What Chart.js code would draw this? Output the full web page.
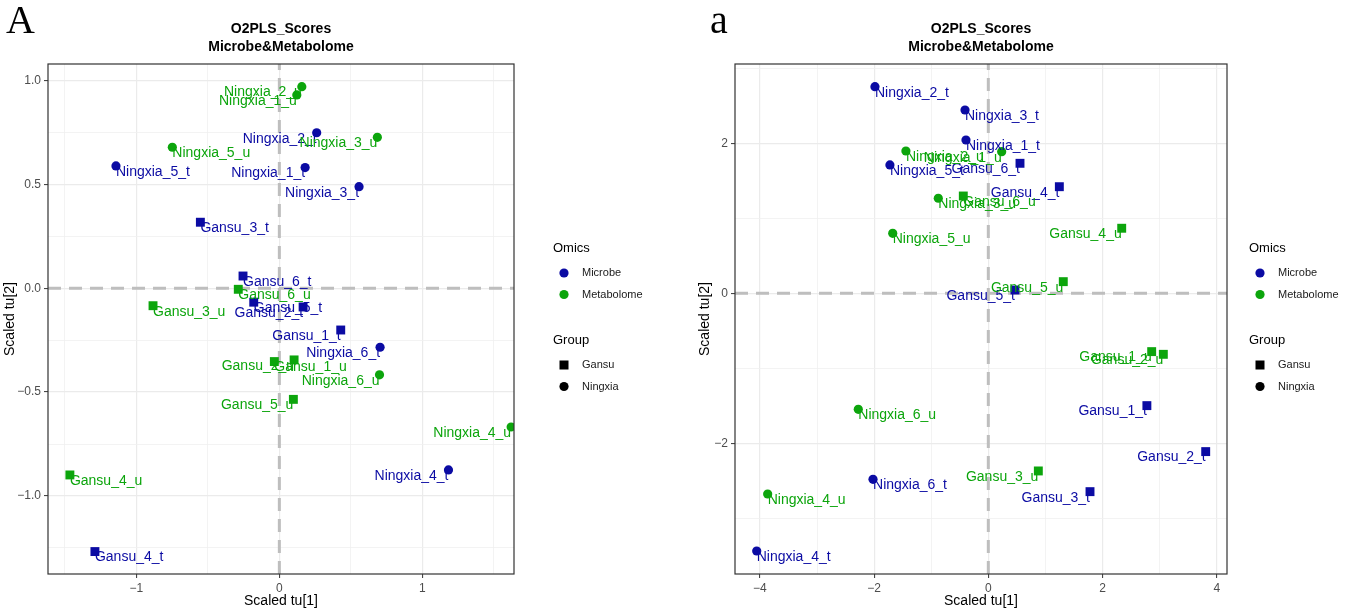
<!DOCTYPE html>
<html>
<head>
<meta charset="utf-8">
<title>O2PLS Scores</title>
<script src="https://cdn.jsdelivr.net/npm/chart.js@4.4.1/dist/chart.umd.min.js"></script>
<style>
    html, body { margin: 0; padding: 0; background: #ffffff; }
    #wrap { position: relative; width: 1354px; height: 614px; }
    .panel { position: absolute; top: 0; width: 677px; height: 614px; }
    #panelA { left: 0; }
    #panelB { left: 677px; }
</style>
</head>
<body>
<div id="wrap">
    <div class="panel" id="panelA"><canvas id="chartA" width="677" height="614"></canvas></div>
    <div class="panel" id="panelB"><canvas id="chartB" width="677" height="614"></canvas></div>
</div>
<script>
// Panel A scores
const sampleNamesA = [
    'Ningxia_2_u', 'Ningxia_1_u', 'Ningxia_2_t', 'Ningxia_3_u', 'Ningxia_5_u', 'Ningxia_5_t',
    'Ningxia_1_t', 'Ningxia_3_t', 'Gansu_3_t', 'Gansu_6_t', 'Gansu_6_u', 'Gansu_5_t',
    'Gansu_2_t', 'Gansu_3_u', 'Gansu_1_t', 'Ningxia_6_t', 'Gansu_1_u', 'Gansu_2_u',
    'Ningxia_6_u', 'Gansu_5_u', 'Ningxia_4_u', 'Gansu_4_u', 'Gansu_4_t', 'Ningxia_4_t'
];
const tu1A = [
    0.157, 0.122, 0.261, 0.685, -0.748, -1.142,
    0.180, 0.557, -0.552, -0.254, -0.287, -0.179,
    0.166, -0.883, 0.429, 0.704, -0.035, 0.103,
    0.700, 0.098, 1.620, -1.464, -1.289, 1.182
];
const tu2A = [
    0.971, 0.931, 0.749, 0.727, 0.679, 0.589,
    0.581, 0.489, 0.318, 0.059, -0.005, -0.067,
    -0.090, -0.084, -0.201, -0.284, -0.353, -0.345,
    -0.417, -0.535, -0.668, -0.899, -1.268, -0.875
];

// Panel a scores
const sampleNamesB = [
    'Ningxia_2_t', 'Ningxia_3_t', 'Ningxia_1_t', 'Ningxia_2_u', 'Ningxia_1_u', 'Ningxia_5_t',
    'Gansu_6_t', 'Gansu_4_t', 'Ningxia_3_u', 'Gansu_6_u', 'Ningxia_5_u', 'Gansu_4_u',
    'Gansu_5_u', 'Gansu_5_t', 'Gansu_1_u', 'Gansu_2_u', 'Gansu_1_t', 'Ningxia_6_u',
    'Gansu_2_t', 'Gansu_3_u', 'Ningxia_6_t', 'Ningxia_4_u', 'Gansu_3_t', 'Ningxia_4_t'
];
const tu1B = [
    -1.985, -0.408, -0.391, -1.443, 0.234, -1.723,
    0.555, 1.244, -0.876, -0.438, -1.674, 2.336,
    1.313, 0.467, 2.861, 3.065, 2.777, -2.277,
    3.807, 0.876, -2.019, -3.864, 1.781, -4.056
];
const tu2B = [
    2.755, 2.444, 2.044, 1.897, 1.888, 1.711,
    1.733, 1.421, 1.267, 1.297, 0.800, 0.867,
    0.155, 0.044, -0.778, -0.814, -1.498, -1.547,
    -2.111, -2.369, -2.480, -2.676, -2.645, -3.436
];

// Axis ticks
const xLabelTicksA = [-1, 0, 1];
const yLabelTicksA = [-1.0, -0.5, 0.0, 0.5, 1.0];
const xLabelTicksB = [-4, -2, 0, 2, 4];
const yLabelTicksB = [-2, 0, 2];

const omicsNames = ['Microbe', 'Metabolome'];
const groupNames = ['Gansu', 'Ningxia'];
const omicsColors = ['#0b0ba3', '#0ca50c'];

const FONT = "'Liberation Sans', Arial, sans-serif";

function omicsOf(name) {
    return name.endsWith('_t') ? 0 : 1;
}

function buildDatasets(names, xs, ys) {
    return omicsNames.map((omics, k) => ({
        label: omics,
        data: names
            .map((name, i) => ({ x: xs[i], y: ys[i], name: name }))
            .filter((p) => omicsOf(p.name) === k),
        backgroundColor: omicsColors[k],
        borderColor: omicsColors[k],
        borderWidth: 0,
        pointStyle: (ctx) => (ctx.raw && ctx.raw.name.startsWith('Gansu') ? 'rect' : 'circle'),
        pointRadius: (ctx) => (ctx.raw && ctx.raw.name.startsWith('Gansu') ? 6.3 : 4.6),
    }));
}

function gridValues(min, max, step) {
    const out = [];
    for (let v = Math.ceil(min / step) * step; v <= max + 1e-9; v += step) {
        out.push(Math.round(v * 1000) / 1000);
    }
    return out;
}

function isMajor(value, majors) {
    return majors.some((m) => Math.abs(m - value) < 1e-6);
}

function fmtTick(value, digits) {
    return value.toFixed(digits).replace('-', '\u2212');
}

function axisOptions(min, max, step, majors, digits, title, fitSize, horizontal, titlePad) {
    return {
        type: 'linear',
        min: min,
        max: max,
        afterBuildTicks: (scale) => {
            scale.ticks = gridValues(min, max, step).map((v) => ({ value: v }));
        },
        afterFit: (scale) => {
            if (horizontal) {
                scale.height = fitSize;
            } else {
                scale.width = fitSize;
            }
        },
        grid: {
            color: (ctx) => (ctx.tick && isMajor(ctx.tick.value, majors) ? '#ebebeb' : '#f0f0f0'),
            lineWidth: (ctx) => (ctx.tick && isMajor(ctx.tick.value, majors) ? 1.2 : 0.8),
            drawTicks: true,
            tickLength: 4,
            tickColor: (ctx) => (ctx.tick && isMajor(ctx.tick.value, majors) ? '#333333' : 'rgba(0,0,0,0)'),
            tickWidth: 1,
        },
        border: { display: false },
        ticks: {
            autoSkip: false,
            maxRotation: 0,
            padding: 3,
            color: '#4d4d4d',
            font: { family: FONT, size: 12 },
            callback: (value) => (isMajor(value, majors) ? fmtTick(value, digits) : ''),
        },
        title: {
            display: true,
            text: title,
            color: '#000000',
            font: { family: FONT, size: 14 },
            padding: titlePad,
        },
    };
}

// Zero lines, point labels, frame, title, legend and panel letter
const o2plsDecor = {
    id: 'o2plsDecor',
    beforeDatasetsDraw(chart) {
        const { ctx, chartArea, scales } = chart;
        const x0 = scales.x.getPixelForValue(0);
        const y0 = scales.y.getPixelForValue(0);
        ctx.save();
        ctx.beginPath();
        ctx.rect(chartArea.left, chartArea.top, chartArea.right - chartArea.left, chartArea.bottom - chartArea.top);
        ctx.clip();
        ctx.strokeStyle = '#bebebe';
        ctx.lineWidth = 3;
        ctx.setLineDash([13, 8]);
        ctx.beginPath();
        ctx.moveTo(x0, chartArea.bottom);
        ctx.lineTo(x0, chartArea.top);
        ctx.moveTo(chartArea.left, y0);
        ctx.lineTo(chartArea.right, y0);
        ctx.stroke();
        ctx.restore();
    },
    afterDatasetsDraw(chart) {
        const { ctx } = chart;
        ctx.save();
        ctx.font = `14px ${FONT}`;
        ctx.textBaseline = 'middle';
        chart.data.datasets.forEach((ds, di) => {
            const meta = chart.getDatasetMeta(di);
            ctx.fillStyle = omicsColors[di];
            ds.data.forEach((p, i) => {
                const el = meta.data[i];
                ctx.textAlign = p.x < 0 ? 'left' : 'right';
                ctx.fillText(p.name, el.x, el.y + 6);
            });
        });
        ctx.restore();
    },
    afterDraw(chart, args, opts) {
        const { ctx, chartArea } = chart;
        ctx.save();
        // panel frame
        ctx.strokeStyle = '#333333';
        ctx.lineWidth = 1.2;
        ctx.strokeRect(chartArea.left, chartArea.top, chartArea.right - chartArea.left, chartArea.bottom - chartArea.top);

        // title
        const cx = (chartArea.left + chartArea.right) / 2;
        ctx.fillStyle = '#000000';
        ctx.textAlign = 'center';
        ctx.textBaseline = 'middle';
        ctx.font = `bold 14px ${FONT}`;
        ctx.fillText('O2PLS_Scores', cx, 29);
        ctx.fillText('Microbe&Metabolome', cx, 47);

        // panel letter
        ctx.textAlign = 'left';
        ctx.textBaseline = 'alphabetic';
        ctx.font = "40px 'Liberation Serif', 'Times New Roman', serif";
        ctx.fillText(opts.letter, opts.letterX, 33);

        // legend
        const lx = opts.legendX;
        ctx.textBaseline = 'middle';
        ctx.font = `13px ${FONT}`;
        ctx.fillStyle = '#000000';
        ctx.fillText('Omics', lx, 248);
        ctx.fillText('Group', lx, 340);
        ctx.font = `11px ${FONT}`;
        omicsNames.forEach((name, k) => {
            const y = 273 + k * 21.5;
            ctx.fillStyle = omicsColors[k];
            ctx.beginPath();
            ctx.arc(lx + 11, y, 4.6, 0, Math.PI * 2);
            ctx.fill();
            ctx.fillStyle = '#1a1a1a';
            ctx.fillText(name, lx + 29, y);
        });
        groupNames.forEach((name, k) => {
            const y = 365 + k * 21.5;
            ctx.fillStyle = '#000000';
            if (k === 0) {
                ctx.fillRect(lx + 11 - 4.5, y - 4.5, 9, 9);
            } else {
                ctx.beginPath();
                ctx.arc(lx + 11, y, 4.6, 0, Math.PI * 2);
                ctx.fill();
            }
            ctx.fillStyle = '#1a1a1a';
            ctx.fillText(name, lx + 29, y);
        });
        ctx.restore();
    },
};

function makeChart(canvasId, names, xs, ys, cfg) {
    const ctx = document.getElementById(canvasId).getContext('2d');
    return new Chart(ctx, {
        type: 'scatter',
        data: { datasets: buildDatasets(names, xs, ys) },
        options: {
            responsive: false,
            animation: false,
            events: [],
            layout: { padding: cfg.padding },
            plugins: {
                legend: { display: false },
                tooltip: { enabled: false },
                title: { display: false },
                o2plsDecor: { letter: cfg.letter, letterX: cfg.letterX, legendX: cfg.legendX },
            },
            scales: {
                x: axisOptions(cfg.xRange[0], cfg.xRange[1], cfg.xStep, cfg.xTicks, cfg.xDigits,
                    'Scaled tu[1]', 40, true, { top: 0, bottom: 4 }),
                y: axisOptions(cfg.yRange[0], cfg.yRange[1], cfg.yStep, cfg.yTicks, cfg.yDigits,
                    'Scaled tu[2]', cfg.yWidth, false, { top: 2, bottom: 0 }),
            },
        },
        plugins: [o2plsDecor],
    });
}

document.addEventListener('DOMContentLoaded', () => {
    makeChart('chartA', sampleNamesA, tu1A, tu2A, {
        padding: { left: 0, right: 163, top: 64, bottom: 0 },
        yWidth: 48,
        xRange: [-1.617, 1.64], xStep: 0.5, xTicks: xLabelTicksA, xDigits: 0,
        yRange: [-1.376, 1.08], yStep: 0.25, yTicks: yLabelTicksA, yDigits: 1,
        letter: 'A', letterX: 6, legendX: 553,
    });
    makeChart('chartB', sampleNamesB, tu1B, tu2B, {
        padding: { left: 18, right: 127, top: 64, bottom: 0 },
        yWidth: 40,
        xRange: [-4.436, 4.18], xStep: 1, xTicks: xLabelTicksB, xDigits: 0,
        yRange: [-3.743, 3.057], yStep: 1, yTicks: yLabelTicksB, yDigits: 0,
        letter: 'a', letterX: 33, legendX: 572,
    });
});
</script>
</body>
</html>
